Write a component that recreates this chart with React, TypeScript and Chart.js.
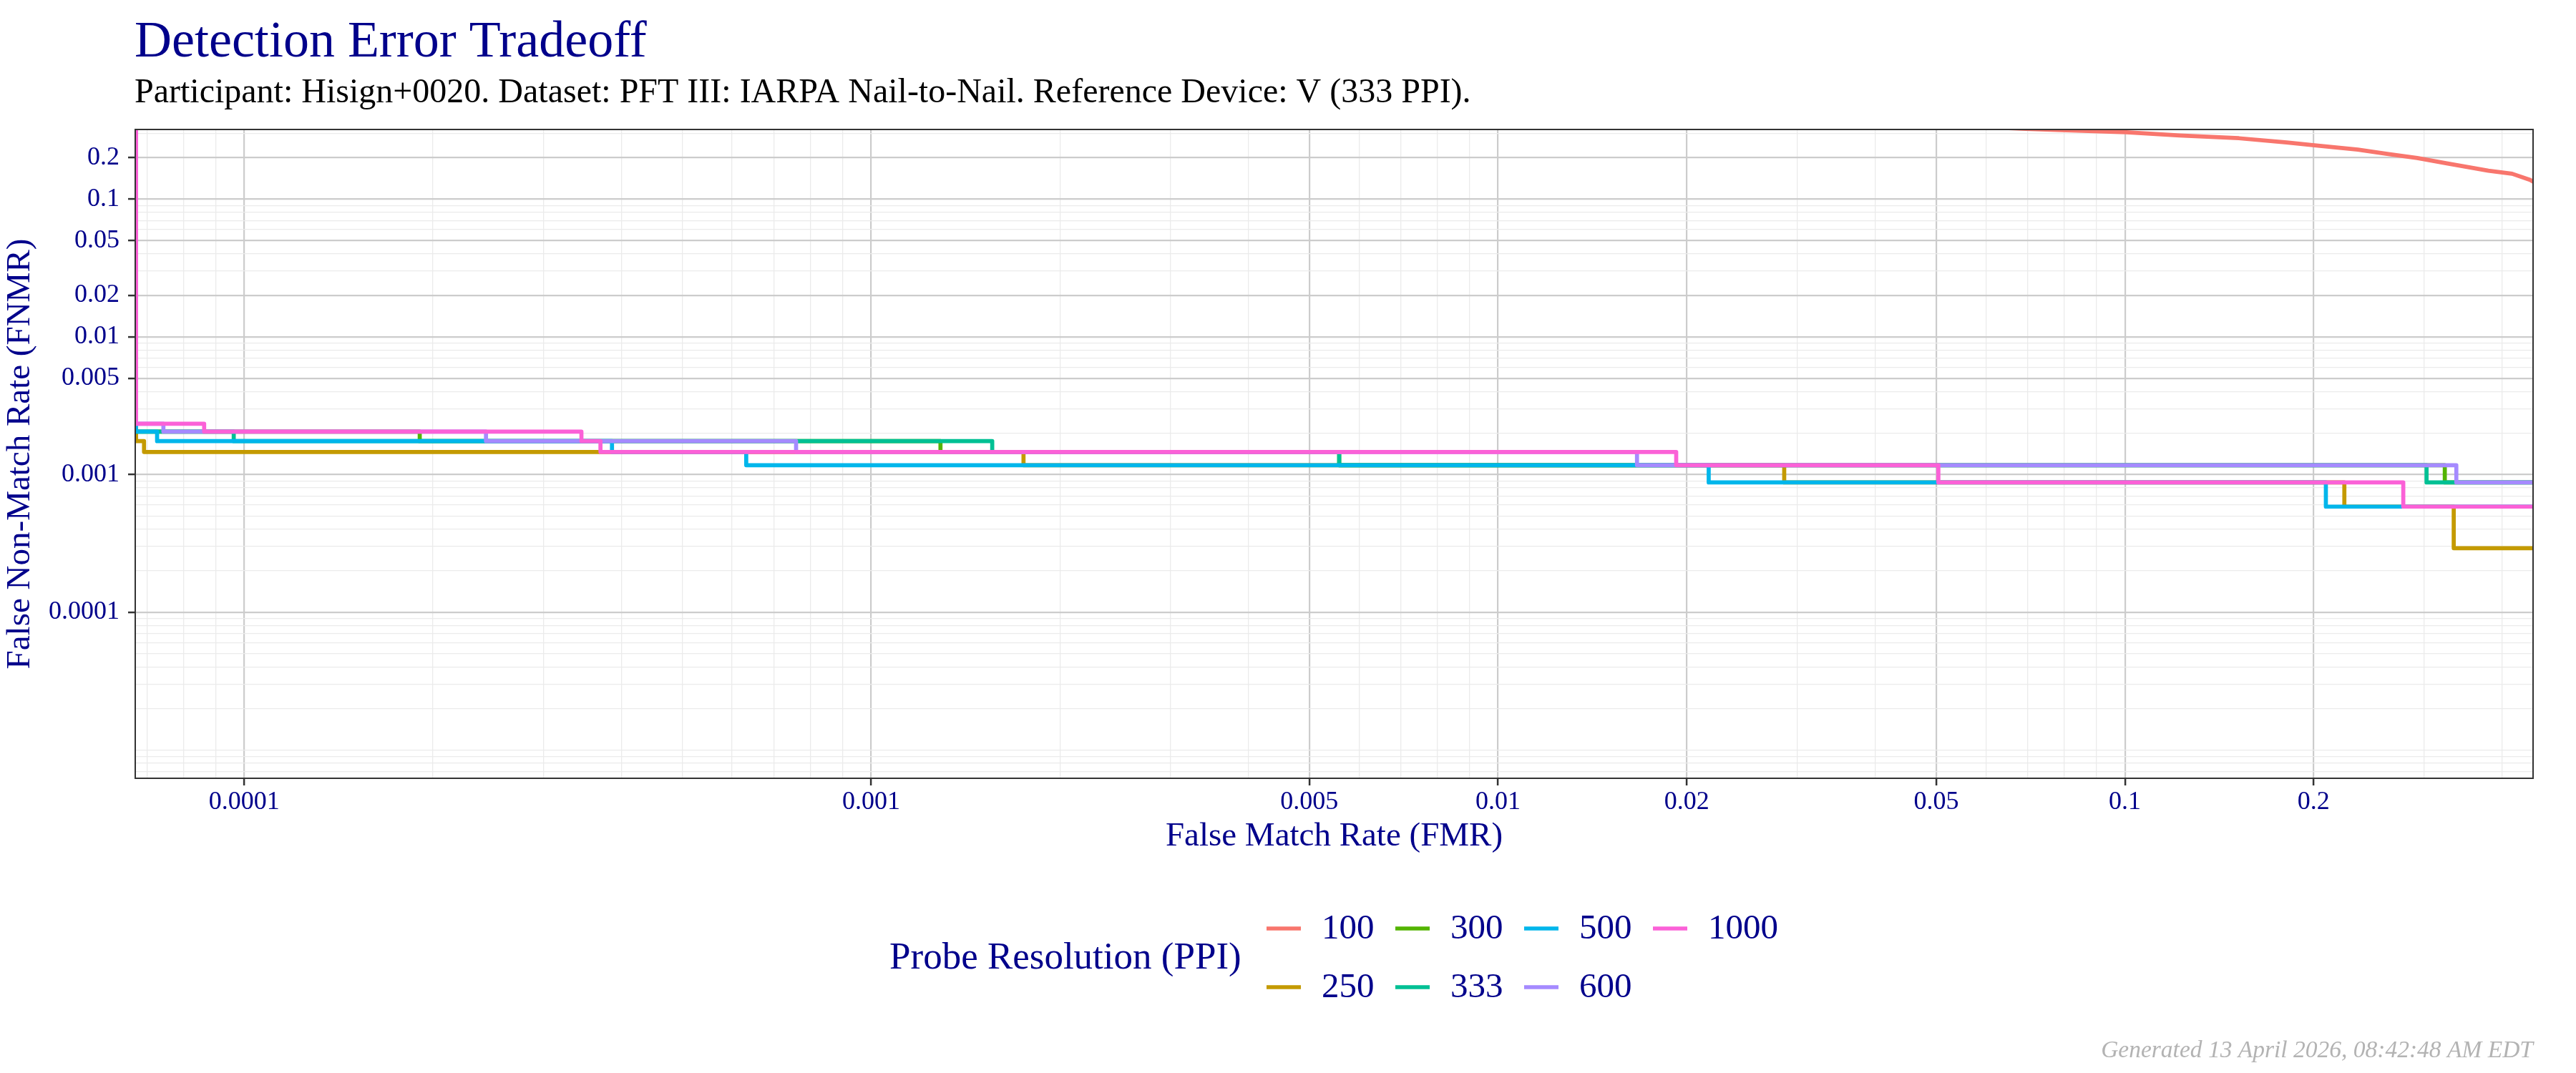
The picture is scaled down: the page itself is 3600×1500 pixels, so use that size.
import React, { useEffect, useRef } from 'react';
import { Chart, registerables } from 'chart.js';

Chart.register(...registerables);

const NAVY = '#00008B';
const FONT = '"Liberation Serif", "Times New Roman", serif';

const titleText = 'Detection Error Tradeoff';
const subtitleText =
  'Participant: Hisign+0020. Dataset: PFT III: IARPA Nail-to-Nail. Reference Device: V (333 PPI).';
const xAxisTitle = 'False Match Rate (FMR)';
const yAxisTitle = 'False Non-Match Rate (FNMR)';
const legendTitle = 'Probe Resolution (PPI)';
const footerText = 'Generated 13 April 2026, 08:42:48 AM EDT';

const probeLabels = ['100', '250', '300', '333', '500', '600', '1000'];
const probeColors = ['#F8766D', '#C49A00', '#53B400', '#00C094', '#00B6EB', '#A58AFF', '#FB61D7'];

// FMR / FNMR values per probe resolution (step curves: horizontal, then drop)
const fmr100 = [0.05, 0.0694, 0.0791, 0.1005, 0.1223, 0.152, 0.1811, 0.2006, 0.2352, 0.262, 0.2926, 0.3262, 0.38, 0.4146, 0.443, 0.46];
const fnmr100 = [0.345, 0.324, 0.317, 0.306, 0.29, 0.277, 0.258, 0.246, 0.229, 0.213, 0.199, 0.182, 0.161, 0.153, 0.138, 0.125];

const fmr250 = [6.72e-5, 6.72e-5, 6.92e-5, 0.00175, 0.02861, 0.2239, 0.3346, 0.5];
const fnmr250 = [1, 0.00175, 0.00146, 0.00117, 0.000877, 0.000585, 0.000292, 0.000292];

const fmr300 = [6.72e-5, 6.72e-5, 0.0001905, 0.00129, 0.00558, 0.3238, 0.5];
const fnmr300 = [1, 0.00205, 0.00175, 0.00146, 0.00117, 0.000877, 0.000877];

const fmr333 = [6.72e-5, 6.72e-5, 9.62e-5, 0.00156, 0.00558, 0.3028, 0.5];
const fnmr333 = [1, 0.00205, 0.00175, 0.00146, 0.00117, 0.000877, 0.000877];

const fmr500 = [6.72e-5, 6.72e-5, 7.26e-5, 0.000386, 0.000632, 0.02168, 0.2092, 0.5];
const fnmr500 = [1, 0.00205, 0.00175, 0.00146, 0.00117, 0.000877, 0.000585, 0.000585];

const fmr600 = [6.72e-5, 6.72e-5, 7.43e-5, 0.000243, 0.000759, 0.01666, 0.3378, 0.5];
const fnmr600 = [1, 0.00234, 0.00205, 0.00175, 0.00146, 0.00117, 0.000877, 0.000877];

const fmr1000 = [6.72e-5, 6.72e-5, 8.63e-5, 0.000345, 0.00037, 0.01924, 0.0504, 0.278, 0.5];
const fnmr1000 = [1, 0.00234, 0.00205, 0.00175, 0.00146, 0.00117, 0.000877, 0.000585, 0.000585];

const seriesFmr = [fmr100, fmr250, fmr300, fmr333, fmr500, fmr600, fmr1000];
const seriesFnmr = [fnmr100, fnmr250, fnmr300, fnmr333, fnmr500, fnmr600, fnmr1000];
const seriesStepped = [false, true, true, true, true, true, true];

const xTickValues = [0.0001, 0.001, 0.005, 0.01, 0.02, 0.05, 0.1, 0.2];
const xTickLabels = ['0.0001', '0.001', '0.005', '0.01', '0.02', '0.05', '0.1', '0.2'];
const yTickValues = [0.0001, 0.001, 0.005, 0.01, 0.02, 0.05, 0.1, 0.2];
const yTickLabels = ['0.0001', '0.001', '0.005', '0.01', '0.02', '0.05', '0.1', '0.2'];

const X_MIN = 6.7e-5;
const X_MAX = 0.4478;
const Y_MIN = 6.23e-6;
const Y_MAX = 0.3206;

function logGridValues(min: number, max: number): number[] {
  const out: number[] = [];
  for (let e = -8; e <= 1; e++) {
    for (let d = 1; d <= 9; d++) {
      const v = parseFloat((d * Math.pow(10, e)).toPrecision(4));
      if (v >= min && v <= max) out.push(v);
    }
  }
  return out;
}

function majorIndex(v: number | undefined, majors: number[]): number {
  if (v === undefined || v === null) return -1;
  for (let i = 0; i < majors.length; i++) {
    if (Math.abs(majors[i] - v) / majors[i] < 1e-6) return i;
  }
  return -1;
}

function axisOptions(majors: number[], labels: string[], min: number, max: number, title: string) {
  return {
    type: 'logarithmic' as const,
    min,
    max,
    afterBuildTicks: (scale: any) => {
      scale.ticks = logGridValues(min, max).map((v) => ({ value: v }));
    },
    ticks: {
      autoSkip: false,
      maxRotation: 0,
      minRotation: 0,
      color: NAVY,
      font: { family: FONT, size: 36 },
      callback: (value: any) => {
        const i = majorIndex(Number(value), majors);
        return i >= 0 ? labels[i] : '';
      },
    },
    grid: {
      drawTicks: true,
      tickLength: 10,
      tickWidth: 2.5,
      color: (c: any) => (majorIndex(c.tick?.value, majors) >= 0 ? '#CCCCCC' : '#EBEBEB'),
      lineWidth: (c: any) => (majorIndex(c.tick?.value, majors) >= 0 ? 2.2 : 1.3),
      tickColor: (c: any) => (majorIndex(c.tick?.value, majors) >= 0 ? '#333333' : 'rgba(0,0,0,0)'),
    },
    border: { display: true, color: '#333333', width: 2 },
    title: {
      display: true,
      text: title,
      color: NAVY,
      font: { family: FONT, size: 47 },
      padding: 0,
    },
  };
}

const textPlugin = {
  id: 'detTexts',
  beforeDraw(chart: any) {
    const ctx = chart.ctx;
    ctx.save();
    ctx.fillStyle = '#FFFFFF';
    ctx.fillRect(0, 0, chart.width, chart.height);
    ctx.restore();
  },
  afterDatasetsDraw(chart: any) {
    const { ctx, chartArea } = chart;
    ctx.save();
    ctx.strokeStyle = '#333333';
    ctx.lineWidth = 2;
    ctx.strokeRect(chartArea.left, chartArea.top, chartArea.right - chartArea.left, chartArea.bottom - chartArea.top);
    ctx.restore();
  },
  afterDraw(chart: any) {
    const ctx = chart.ctx;
    ctx.save();
    ctx.textBaseline = 'alphabetic';
    ctx.textAlign = 'left';
    // title
    ctx.fillStyle = NAVY;
    ctx.font = `72px ${FONT}`;
    ctx.fillText(titleText, 188, 79);
    // subtitle
    ctx.fillStyle = '#000000';
    ctx.font = `48px ${FONT}`;
    ctx.fillText(subtitleText, 188, 143);
    // legend
    ctx.fillStyle = NAVY;
    ctx.font = `53px ${FONT}`;
    ctx.textBaseline = 'middle';
    ctx.fillText(legendTitle, 1243, 1340);
    ctx.font = `49px ${FONT}`;
    const rowsY = [1298, 1380];
    probeLabels.forEach((lab, i) => {
      const col = Math.floor(i / 2);
      const row = i % 2;
      const kx = 1770 + col * 180;
      const ky = rowsY[row];
      ctx.strokeStyle = probeColors[i];
      ctx.lineWidth = 5.5;
      ctx.beginPath();
      ctx.moveTo(kx, ky);
      ctx.lineTo(kx + 48, ky);
      ctx.stroke();
      ctx.fillStyle = NAVY;
      ctx.fillText(lab, kx + 77, ky + 1);
    });
    // footer
    ctx.textBaseline = 'alphabetic';
    ctx.textAlign = 'right';
    ctx.fillStyle = '#B3B3B3';
    ctx.font = `italic 33.5px ${FONT}`;
    ctx.fillText(footerText, 3540, 1478);
    ctx.restore();
  },
};

export default function App() {
  const canvasRef = useRef<HTMLCanvasElement | null>(null);

  useEffect(() => {
    const canvas = canvasRef.current;
    if (!canvas) return;
    const n = probeLabels.length;
    const datasets = probeLabels.map((lab, i) => ({
      label: lab,
      data: seriesFmr[i].map((x, j) => ({ x, y: seriesFnmr[i][j] })),
      borderColor: probeColors[i],
      backgroundColor: probeColors[i],
      borderWidth: 5.7,
      pointRadius: 0,
      pointHoverRadius: 0,
      fill: false,
      tension: 0,
      stepped: seriesStepped[i] ? ('before' as const) : false,
      borderJoinStyle: 'round' as const,
      clip: 0,
      order: n - 1 - i,
    }));

    const xOpts: any = axisOptions(xTickValues, xTickLabels, X_MIN, X_MAX, xAxisTitle);
    xOpts.position = 'bottom';
    xOpts.ticks.padding = 2;
    xOpts.afterFit = (scale: any) => {
      scale.height = 110;
    };
    const yOpts: any = axisOptions(yTickValues, yTickLabels, Y_MIN, Y_MAX, yAxisTitle);
    yOpts.position = 'left';
    yOpts.ticks.padding = 12;
    yOpts.afterFit = (scale: any) => {
      scale.width = 189;
    };

    const chart = new Chart(canvas, {
      type: 'line',
      data: { datasets },
      options: {
        animation: false,
        responsive: false,
        devicePixelRatio: 1,
        layout: { padding: { left: 0, top: 181, right: 60, bottom: 302 } },
        plugins: {
          legend: { display: false },
          tooltip: { enabled: false },
          title: { display: false },
        },
        scales: { x: xOpts, y: yOpts },
      },
      plugins: [textPlugin],
    });
    return () => {
      chart.destroy();
    };
  }, []);

  return (
    <div style={{ position: 'absolute', left: 0, top: 0, width: 3600, height: 1500, background: '#fff' }}>
      <canvas ref={canvasRef} width={3600} height={1500} style={{ width: 3600, height: 1500, display: 'block' }} />
    </div>
  );
}
